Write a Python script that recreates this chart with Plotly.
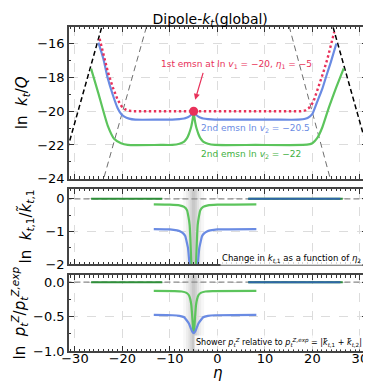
import plotly.graph_objects as go

# ---------------- data ----------------
ETA1 = -5.0
LNV1 = -20.0

# panel 1: ln kt/Q
black_left_eta = [-32.0, -23.0]
black_left_y = [-22.65, -13.65]
black_right_eta = [23.0, 32.0]
black_right_y = [-13.65, -22.65]
gray_left_eta = [-25.0, -14.0]
gray_left_y = [-25.05, -14.05]
gray_right_eta = [14.0, 25.0]
gray_right_y = [-13.8, -25.3]

red_eta = [-24.8, -23.1, -22.0, -21.0, -20.2, -19.5, -18.7, -17.8, -10.0, 0.0, 10.0, 17.5, 18.5, 19.3, 20.2, 21.4, 22.3, 23.2, 24.6]
red_y = [-15.7, -17.63, -18.6, -19.32, -19.7, -19.88, -19.97, -20.0, -20.0, -20.0, -20.0, -20.0, -19.95, -19.8, -19.45, -18.5, -17.7, -16.85, -15.3]

blue_eta = [-25.05, -24.0, -23.1, -22.0, -21.0, -20.3, -19.6, -18.6, -17.3, -12.0, -9.5, -8.0, -7.0, -6.5, -6.0, -5.5, -5.25, -5.0,
            -4.75, -4.5, -4.0, -3.5, -3.0, -2.0, -0.5, 5.0, 12.0, 17.0, 18.5, 19.5, 20.0, 21.0, 22.1, 23.0, 23.9, 25.05]
blue_y = [-15.93, -16.9, -18.03, -19.05, -19.82, -20.15, -20.32, -20.44, -20.5, -20.5, -20.5, -20.47, -20.43, -20.39, -20.32, -20.21, -20.13, -20.0,
          -20.13, -20.21, -20.32, -20.39, -20.43, -20.47, -20.5, -20.5, -20.5, -20.5, -20.45, -20.3, -20.16, -19.45, -18.66, -17.85, -17.07, -15.98]

green_eta = [-26.6, -25.0, -23.1, -21.7, -20.3, -18.9, -12.0, -9.5, -8.0, -7.0, -6.4, -6.0, -5.7, -5.5, -5.35, -5.2, -5.1, -5.0,
             -4.9, -4.8, -4.65, -4.5, -4.3, -4.0, -3.6, -3.0, -2.0, -0.5, 8.0, 18.0, 19.5, 20.0, 21.0, 22.1, 23.5, 25.0, 26.6]
green_y = [-17.47, -19.0, -20.85, -21.65, -21.9, -22.0, -22.0, -22.0, -21.93, -21.8, -21.6, -21.35, -21.1, -20.9, -20.7, -20.45, -20.25, -20.0,
           -20.25, -20.45, -20.7, -20.9, -21.1, -21.35, -21.6, -21.8, -21.93, -22.0, -22.0, -22.0, -21.95, -21.9, -21.6, -20.95, -19.75, -18.6, -17.45]

# panel 2: ln kt1 / kt1~
p2_blue_eta = [-13.4, -10.0, -8.5, -7.8, -7.2, -6.75, -6.5, -6.2, -6.0, -5.9, -5.7, -5.0,
               -4.3, -4.1, -4.0, -3.8, -3.5, -3.25, -2.8, -2.2, -1.5, 0.0, 8.2]
p2_blue_y = [-0.93, -0.94, -0.97, -1.0, -1.06, -1.15, -1.3, -1.5, -1.8, -2.0, -2.6, -4.0,
             -2.6, -2.0, -1.8, -1.5, -1.3, -1.15, -1.06, -1.0, -0.97, -0.94, -0.93]
p2_green_eta = [-13.4, -10.0, -8.0, -7.0, -6.4, -6.1, -5.85, -5.7, -5.5, -5.3, -5.0,
                -4.7, -4.5, -4.3, -4.15, -3.9, -3.6, -3.0, -2.0, 0.0, 8.2]
p2_green_y = [-0.17, -0.18, -0.2, -0.25, -0.35, -0.55, -0.8, -1.2, -2.0, -3.5, -5.0,
              -3.5, -2.0, -1.2, -0.8, -0.55, -0.35, -0.25, -0.2, -0.18, -0.17]

# panel 3: ln pt^Z / pt^Z,exp
p3_blue_eta = [-13.4, -9.5, -8.0, -7.0, -6.4, -6.0, -5.6, -5.3, -5.0, -4.7, -4.4, -4.0, -3.6, -3.0, -2.0, -0.5, 8.2]
p3_blue_y = [-0.475, -0.48, -0.49, -0.51, -0.56, -0.6, -0.67, -0.72, -0.74, -0.72, -0.67, -0.6, -0.56, -0.51, -0.49, -0.48, -0.475]
p3_green_eta = [-13.4, -9.0, -7.5, -6.5, -6.0, -5.7, -5.5, -5.35, -5.2, -5.1, -5.0,
                -4.9, -4.8, -4.65, -4.5, -4.3, -4.0, -3.5, -2.5, -1.0, 8.2]
p3_green_y = [-0.127, -0.13, -0.135, -0.155, -0.19, -0.25, -0.33, -0.45, -0.6, -0.7, -0.73,
              -0.7, -0.6, -0.45, -0.33, -0.25, -0.19, -0.155, -0.135, -0.13, -0.127]

zero_green_left = [-26.6, -11.6]
zero_green_right = [6.5, 26.4]
zero_blue_right = [6.5, 25.9]

x_ticks = [-30, -20, -10, 0, 10, 20, 30]
y1_ticks = [-16, -18, -20, -22, -24]
y2_ticks = [0, -1, -2]
y3_ticks = [0.0, -0.5, -1.0]
y3_ticklabels = ["0.0", "\u22120.5", "\u22121.0"]

# ---------------- styling ----------------
RED = "#e8315a"
BLUE = "#6a8be3"
GREEN = "#5cc45c"
FONT = "DejaVu Sans"

fig = go.Figure()

def add(x, y, ax, **kw):
    xa = "x" if ax == 1 else f"x{ax}"
    ya = "y" if ax == 1 else f"y{ax}"
    fig.add_trace(go.Scatter(x=x, y=y, xaxis=xa, yaxis=ya, mode="lines", showlegend=False,
                             hoverinfo="skip", **kw))

# panel 1
add(gray_left_eta, gray_left_y, 1, line=dict(color="#6e6e6e", width=1, dash="6px,4px"))
add(gray_right_eta, gray_right_y, 1, line=dict(color="#6e6e6e", width=1, dash="6px,4px"))
add(black_left_eta, black_left_y, 1, line=dict(color="black", width=1.5, dash="5px,3px"))
add(black_right_eta, black_right_y, 1, line=dict(color="black", width=1.5, dash="5px,3px"))
add(green_eta, green_y, 1, line=dict(color=GREEN, width=2.2, shape="spline", smoothing=0.5))
add(blue_eta, blue_y, 1, line=dict(color=BLUE, width=2.2, shape="spline", smoothing=0.5))
add(red_eta, red_y, 1, line=dict(color=RED, width=2.4, dash="2.4px,2.6px"))
fig.add_trace(go.Scatter(x=[ETA1], y=[LNV1], mode="markers", showlegend=False, hoverinfo="skip",
                         marker=dict(color=RED, size=9), xaxis="x", yaxis="y"))

# panels 2 and 3
for ax in (2, 3):
    add([-32, 32], [0, 0], ax, line=dict(color="#8a8a8a", width=1.3, dash="6px,3px"))
    add(zero_green_left, [0, 0], ax, line=dict(color="#2f8f3a", width=2))
    add(zero_green_right, [0, 0], ax, line=dict(color="#2f8f3a", width=2))
    add(zero_blue_right, [0, 0], ax, line=dict(color="#2f66a8", width=2))
add(p2_green_eta, p2_green_y, 2, line=dict(color=GREEN, width=2.2, shape="spline", smoothing=0.4))
add(p2_blue_eta, p2_blue_y, 2, line=dict(color=BLUE, width=2.2, shape="spline", smoothing=0.4))
add(p3_green_eta, p3_green_y, 3, line=dict(color=GREEN, width=2.2, shape="spline", smoothing=0.4))
add(p3_blue_eta, p3_blue_y, 3, line=dict(color=BLUE, width=2.2, shape="spline", smoothing=0.4))

# gray band around eta1 in lower panels
shapes = []
for ax in (2, 3):
    for half, op in [(2.2, 0.06), (1.6, 0.07), (1.1, 0.09), (0.7, 0.11), (0.35, 0.12)]:
        shapes.append(dict(type="rect", xref=f"x{ax}", yref=f"y{ax} domain", x0=ETA1 - half, x1=ETA1 + half,
                           y0=0, y1=1, fillcolor="#707070", opacity=op, line_width=0, layer="below"))

def axis_common():
    return dict(showline=True, linecolor="#444", linewidth=1.5, mirror="allticks",
                ticks="inside", ticklen=5, tickwidth=1, tickcolor="#333",
                showgrid=True, gridcolor="#dcdcdc", griddash="dash", gridwidth=1,
                zeroline=False, tickfont=dict(family=FONT, size=13, color="black"))

xr = [-31.25, 31.5]
layout = dict(
    width=371, height=384,
    margin=dict(l=61, r=10, t=19, b=41),
    paper_bgcolor="white", plot_bgcolor="white",
    font=dict(family=FONT, color="black"),
    title=dict(text="Dipole-<i>k</i><sub><i>t</i></sub>(global)", x=0.545, xanchor="center", y=0.985, yanchor="top",
               font=dict(family=FONT, size=14)),
    shapes=shapes,
)
x_common = axis_common()
x_common.update(range=xr, tickvals=x_ticks, ticktext=[("\u2212" if v < 0 else "") + str(abs(v)) for v in x_ticks],
                minor=dict(ticks="inside", ticklen=2.5, dtick=1, tickcolor="#333", showgrid=False))
layout["xaxis"] = dict(x_common, anchor="y", domain=[0, 1], showticklabels=False)
layout["xaxis2"] = dict(x_common, anchor="y2", domain=[0, 1], showticklabels=False, matches="x")
layout["xaxis3"] = dict(x_common, anchor="y3", domain=[0, 1], matches="x", ticklabelstandoff=-5)

y1 = axis_common()
y1.update(range=[-24, -15], domain=[0.532, 1.0], anchor="x", tickvals=y1_ticks,
          ticktext=["\u2212" + str(abs(v)) for v in y1_ticks],
          minor=dict(ticks="inside", ticklen=2.5, dtick=1, tickcolor="#333", showgrid=False),
          title=dict(text="ln  <i>k</i><sub><i>t</i></sub>/<i>Q</i>", font=dict(family=FONT, size=15), standoff=6))
y2 = axis_common()
y2.update(range=[-2, 0.3], domain=[0.2685, 0.5], anchor="x2", tickvals=y2_ticks,
          ticktext=["0", "\u22121", "\u22122"],
          minor=dict(ticks="inside", ticklen=2.5, dtick=0.5, tickcolor="#333", showgrid=False),
          title=dict(text="ln  <i>k</i><sub><i>t</i>,1</sub>/<i>k\u0303</i><sub><i>t</i>,1</sub>",
                     font=dict(family=FONT, size=15), standoff=10))
y3 = axis_common()
y3.update(range=[-1.0, 0.1], domain=[0.0, 0.2336], anchor="x3", tickvals=y3_ticks, ticktext=y3_ticklabels,
          minor=dict(ticks="inside", ticklen=2.5, dtick=0.25, tickcolor="#333", showgrid=False),
          title=dict(text="ln  <i>p</i><sub><i>t</i></sub><sup><i>Z</i></sup>/<i>p</i><sub><i>t</i></sub><sup><i>Z,exp</i></sup>",
                     font=dict(family=FONT, size=15), standoff=4))
layout["yaxis"] = y1
layout["yaxis2"] = y2
layout["yaxis3"] = y3
fig.update_layout(**layout)

ann = [
    dict(x=0.5, y=-0.068, xref="paper", yref="paper", xanchor="center", yanchor="middle", borderpad=0,
         text="<i>\u03b7</i>", showarrow=False, font=dict(family=FONT, size=15)),
    dict(x=4.0, y=-17.2, xref="x", yref="y", text="1st emsn at ln <i>v</i><sub>1</sub> = \u221220, <i>\u03b7</i><sub>1</sub> = \u22125",
         showarrow=False, font=dict(family=FONT, size=9, color=RED)),
    dict(x=-4.68, y=-19.32, xref="x", yref="y", ax=-2.92, ay=-17.63, axref="x", ayref="y", text="",
         showarrow=True, arrowhead=2, arrowsize=1, arrowwidth=1.2, arrowcolor=RED),
    dict(x=-3.9, y=-21.0, xref="x", yref="y", xanchor="left", text="2nd emsn ln <i>v</i><sub>2</sub> = \u221220.5",
         showarrow=False, font=dict(family=FONT, size=9, color=BLUE)),
    dict(x=-3.9, y=-22.57, xref="x", yref="y", xanchor="left", text="2nd emsn ln <i>v</i><sub>2</sub> = \u221222",
         showarrow=False, font=dict(family=FONT, size=9, color="#3fb13f")),
    dict(x=30.6, y=-1.82, xref="x2", yref="y2", xanchor="right", yanchor="middle",
         text="Change in <i>k</i><sub><i>t</i>,1</sub> as a function of <i>\u03b7</i><sub>2</sub>",
         showarrow=False, font=dict(family=FONT, size=8.5, color="black"), bgcolor="rgba(255,255,255,0.8)"),
    dict(x=30.8, y=-0.88, xref="x3", yref="y3", xanchor="right", yanchor="middle",
         text="Shower <i>p</i><sub><i>t</i></sub><sup><i>Z</i></sup> relative to <i>p</i><sub><i>t</i></sub><sup><i>Z,exp</i></sup> = |<i>k\u20d7</i><sub><i>t</i>,1</sub> + <i>k\u20d7</i><sub><i>t</i>,2</sub>|",
         showarrow=False, font=dict(family=FONT, size=8, color="black"), bgcolor="rgba(255,255,255,0.8)"),
]
fig.update_layout(annotations=ann)

fig.write_html("out.html")
